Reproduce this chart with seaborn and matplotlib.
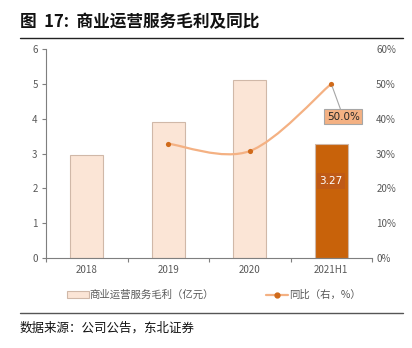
import numpy as np
import pandas as pd
import matplotlib
matplotlib.use("Agg")
import matplotlib.pyplot as plt
import seaborn as sns
from matplotlib.path import Path
from matplotlib.patches import PathPatch, Patch
from matplotlib.lines import Line2D
from matplotlib.transforms import IdentityTransform

categories = ["2018", "2019", "2020", "2021H1"]
gross_profit = [2.95, 3.90, 5.11, 3.27]
yoy_cats = ["2019", "2020", "2021H1"]
yoy_pct = [32.8, 30.7, 50.0]
left_ticks = [0, 1, 2, 3, 4, 5, 6]
right_ticks = [0, 10, 20, 30, 40, 50, 60]

sns.set_theme(style="white")
plt.rcParams['font.family'] = ['Noto Sans CJK SC', 'DejaVu Sans']

W, H = 412, 348
fig = plt.figure(figsize=(W / 100, H / 100), dpi=100)
ax = fig.add_axes([46 / W, 1 - 258 / H, (372 - 46) / W, (258 - 49) / H])

light = "#FBE5D6"
dark = "#C8620A"
df = pd.DataFrame({"cat": categories, "val": gross_profit})
sns.barplot(data=df, x="cat", y="val", hue="cat", palette=[light, light, light, dark],
            width=0.4, edgecolor="#D0B8A8", linewidth=0.8, legend=False, ax=ax, saturation=1)

ax.set_xlim(-0.5, 3.5)
ax.set_ylim(0, 6)
ax.set_yticks(left_ticks)
ax.set_yticklabels([str(t) for t in left_ticks])
ax.set_xlabel("")
ax.set_ylabel("")
tc = "#595959"
ax.tick_params(axis="y", length=3, width=0.8, color="#7f7f7f", labelsize=7, labelcolor=tc, pad=3, left=True)
ax.tick_params(axis="x", which="major", length=0, labelsize=7, labelcolor=tc, pad=5)
ax.set_xticks([-0.5, 0.5, 1.5, 2.5, 3.5], minor=True)
ax.tick_params(axis="x", which="minor", length=3, width=0.8, color="#7f7f7f", bottom=True)
for s in ["top", "right"]:
    ax.spines[s].set_visible(False)
for s in ["left", "bottom"]:
    ax.spines[s].set_color("#7f7f7f")
    ax.spines[s].set_linewidth(0.8)

ax2 = ax.twinx()
ax2.set_ylim(0, 60)
ax2.set_yticks(right_ticks)
ax2.set_yticklabels([f"{t}%" for t in right_ticks])
ax2.tick_params(axis="y", length=0, labelsize=7, labelcolor=tc, pad=3)
for s in ["top", "right", "left", "bottom"]:
    ax2.spines[s].set_visible(False)

xpos = [categories.index(c) for c in yoy_cats]
line_color = "#F4B183"
mk_color = "#D06A1A"

# smooth (Catmull-Rom style) curve computed in display space from the data points
fig.canvas.draw()
pts = ax2.transData.transform(np.column_stack([xpos, yoy_pct]))
verts = [tuple(pts[0])]
codes = [Path.MOVETO]
n = len(pts)
for i in range(n - 1):
    p0 = pts[i - 1] if i > 0 else pts[i]
    p1 = pts[i]
    p2 = pts[i + 1]
    p3 = pts[i + 2] if i + 2 < n else pts[i + 1]
    c1 = p1 + (p2 - p0) / 6
    c2 = p2 - (p3 - p1) / 6
    verts += [tuple(c1), tuple(c2), tuple(p2)]
    codes += [Path.CURVE4] * 3
patch = PathPatch(Path(verts, codes), facecolor="none", edgecolor=line_color, linewidth=1.6,
                  transform=IdentityTransform(), zorder=3)
ax2.add_artist(patch)

sdf = pd.DataFrame({"x": xpos, "y": yoy_pct})
sns.scatterplot(data=sdf, x="x", y="y", color=mk_color, s=14, edgecolor=mk_color, linewidth=0,
                ax=ax2, zorder=4, legend=False)
ax2.set_xlabel("")
ax2.set_ylabel("")
ax2.set_xlim(-0.5, 3.5)

ax2.annotate(f"{yoy_pct[-1]:.1f}%", xy=(xpos[-1], yoy_pct[-1]), xytext=(12, -33),
             textcoords="offset pixels", ha="center", va="center", fontsize=7.5, color="#262626",
             family=['DejaVu Sans'],
             bbox=dict(boxstyle="square,pad=0.25", facecolor="#F4B183", edgecolor="#A6A6A6", linewidth=0.8),
             arrowprops=dict(arrowstyle="-", color="#A6A6A6", linewidth=0.8, shrinkA=0, shrinkB=2),
             zorder=5)

ax.annotate(f"{gross_profit[-1]:.2f}", xy=(3, gross_profit[-1]), xytext=(0, -37),
            textcoords="offset pixels", ha="center", va="center", fontsize=7.5, color="white",
            family=['DejaVu Sans'],
            bbox=dict(boxstyle="square,pad=0.25", facecolor="#BF5A16", edgecolor="none"))

handles = [Patch(facecolor=light, edgecolor="#D0B8A8", linewidth=0.8),
           Line2D([0], [0], color=line_color, linewidth=1.6, marker="o", markersize=3.5,
                  markerfacecolor=mk_color, markeredgecolor=mk_color)]
labels = ["商业运营服务毛利（亿元）", "同比（右，%）"]
fig.legend(handles, labels, loc="center", bbox_to_anchor=(214 / W, 1 - 295 / H), ncol=2,
           frameon=False, fontsize=7.5, labelcolor=tc, handlelength=2.1, handleheight=0.6,
           columnspacing=5.0, handletextpad=0.1)

fig.text(20 / W, 1 - 22 / H, "图  17:  商业运营服务毛利及同比", fontsize=12, fontweight="bold",
         ha="left", va="center", color="#111111")
fig.add_artist(Line2D([20 / W, 403 / W], [1 - 38 / H, 1 - 38 / H], color="#222222", linewidth=1.0))
fig.add_artist(Line2D([20 / W, 403 / W], [1 - 313 / H, 1 - 313 / H], color="#555555", linewidth=1.0))
fig.text(20 / W, 1 - 328 / H, "数据来源：公司公告，东北证券", fontsize=9, ha="left", va="center", color="#111111")

fig.savefig("out.png", dpi=100)
